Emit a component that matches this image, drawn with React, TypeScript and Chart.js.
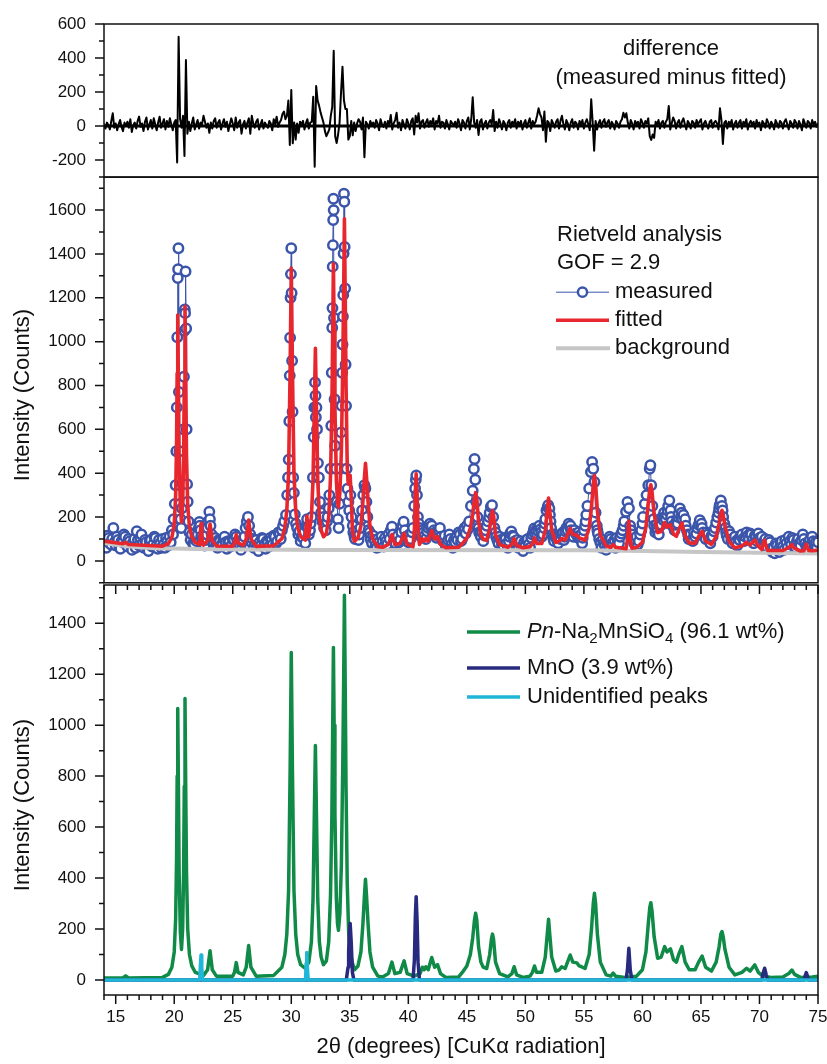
import { useEffect, useRef } from 'react';
import { Chart, registerables } from 'chart.js';

Chart.register(...registerables);

const FONT = "'Liberation Sans', Arial, Helvetica, sans-serif";

// ---------- shared axis ----------
const X_MIN = 14;
const X_MAX = 75;
const xTickLabels = [15, 20, 25, 30, 35, 40, 45, 50, 55, 60, 65, 70, 75];
const diffTickLabels = [-200, 0, 200, 400, 600];
const rietveldTickLabels = [0, 200, 400, 600, 800, 1000, 1200, 1400, 1600];
const phaseTickLabels = [0, 200, 400, 600, 800, 1000, 1200, 1400];

// ---------- top panel: difference (measured minus fitted), sampled every 0.125° from 14° ----------
const DIFF_START = 14;
const DIFF_STEP = 0.125;
const differenceValues = [
  10, -15, 20, 5, -20, 30, 75, -10,
  15, -25, 10, 35, -5, -30, 20, 0,
  25, -10, 40, -35, 5, 20, -15, 30,
  55, -5, 15, -30, 25, 50, -20, 10,
  35, -15, 45, 10, -25, 20, 55, -10,
  15, 40, -20, 30, -5, 45, 10, -25,
  20, 35, -214, 525, 40, -10, 60, -176,
  388, -45, 25, -30, 15, 50, -20, 10,
  35, -15, 20, 10, 60, 25, -10, 15,
  -40, 20, -15, 30, 45, -10, 20, 35,
  -20, 15, 40, -5, 25, -30, 10, 45,
  15, -25, 50, -10, 20, 35, -45, 10,
  30, -15, 20, 45, -45, 60, 15, -10,
  25, 40, -20, 10, 35, -15, 20, 5,
  -10, 30, 15, -25, 40, 10, 55, -5,
  20, 35, 70, 85, 40, 60, 150, -112,
  212, -102, 20, -80, 15, -40, 25, 10,
  30, -20, 15, 40, -15, 20, 25, 172,
  -239, 235, 150, 120, 80, 50, 20, -30,
  -60, -40, -20, 60, 113, 443, -60, -100,
  -50, 20, 196, 349, 150, 100, 100, -80,
  -60, 30, -55, 20, -30, 15, 40, 25,
  -20, 50, -184, 25, 10, -15, 30, 5,
  20, -10, 35, 15, -25, 40, 10, -5,
  25, -15, 30, 10, 65, -20, 15, 35,
  78, -10, 20, -25, 35, 10, -15, 40,
  15, -20, 30, 45, -50, 60, 20, 75,
  -15, 25, 35, -10, 20, 40, -5, 30,
  10, 45, -20, 30, 15, 60, -10, 25,
  20, -15, 35, 10, -20, 30, 15, 5,
  25, -10, 40, 15, -25, 35, 20, -15,
  30, 50, -20, 40, 169, 20, -10, 35,
  -53, 25, 40, -20, 15, 30, -15, 20,
  35, 10, 94, -30, 25, -10, 40, 15,
  -20, 30, 15, -25, 20, 35, -10, 25,
  10, 40, -15, 25, 5, 30, -20, 15,
  35, -10, 20, 45, -15, 30, 10, 25,
  60, 104, 70, 50, -25, 85, -92, 30,
  20, -30, 35, 15, -10, 25, 40, -15,
  30, 60, 10, -20, 35, 15, -25, 20,
  40, -10, 25, 15, -20, 30, 10, 35,
  -15, 20, 40, 10, -25, 157, 20, -145,
  30, -20, 15, 35, -10, 25, 40, -5,
  20, 35, -15, 25, 10, -20, 30, 15,
  -10, 25, 40, 78, 50, 75, 20, -15,
  35, 15, -20, 30, 10, 25, -15, 40,
  20, -10, 30, 15, 45, -60, -82, -50,
  -70, 25, 10, 35, -15, 20, 30, -10,
  25, 40, 118, -20, 15, 50, 30, -15,
  20, 35, -10, 25, 45, 10, -20, 30,
  15, -15, 30, 20, -10, 35, 10, 25,
  40, -20, 15, 30, 5, -15, 25, 35,
  -10, 20, 30, 15, -20, 104, 35, -106,
  20, 30, -15, 25, 10, 35, -20, 15,
  30, -10, 20, 35, -15, 25, 10, 40,
  -20, 15, 30, 5, 25, -15, 35, 10,
  20, -25, 30, 15, -10, 40, 20, -15,
  25, 10, -20, 35, 15, -10, 30, 20,
  -15, 25, 40, 10, -20, 30, 15, -10,
  35, 20, -15, 30, 10, -25, 40, 15,
  -10, 30, 20, -15, 35, 10, 25, -5,
  15,
];

// ---------- middle panel: Rietveld analysis ----------
const measured: [number, number][] = [
  [14.0, 95], [14.1, 70], [14.2, 60], [14.3, 115], [14.4, 105], [14.5, 80], [14.6, 75], [14.7, 100], [14.8, 150], [14.9, 85],
  [15.0, 70], [15.1, 110], [15.2, 95], [15.3, 65], [15.4, 55], [15.5, 90], [15.6, 85], [15.7, 120], [15.8, 110], [15.9, 75],
  [16.0, 65], [16.1, 100], [16.2, 90], [16.3, 70], [16.4, 50], [16.5, 85], [16.6, 100], [16.7, 60], [16.8, 135], [16.9, 95],
  [17.0, 70], [17.1, 105], [17.2, 120], [17.3, 80], [17.4, 60], [17.5, 95], [17.6, 85], [17.7, 55], [17.8, 45], [17.9, 90],
  [18.0, 95], [18.1, 65], [18.2, 75], [18.3, 110], [18.4, 105], [18.5, 70], [18.6, 55], [18.7, 95], [18.8, 80], [18.9, 60],
  [19.0, 100], [19.1, 75], [19.2, 60], [19.3, 105], [19.4, 90], [19.5, 70], [19.6, 110], [19.7, 85], [19.8, 140], [19.9, 120],
  [19.95, 190], [20.05, 260], [20.12, 345], [20.18, 500], [20.22, 700], [20.26, 1020], [20.3, 1290], [20.33, 1330], [20.36, 1426],
  [20.4, 770], [20.45, 500], [20.5, 260], [20.55, 190], [20.6, 150], [20.66, 240], [20.72, 350], [20.78, 600], [20.83, 840],
  [20.87, 1050], [20.9, 1147], [20.93, 1130], [20.97, 1320], [21.02, 1060], [21.06, 600], [21.1, 350], [21.15, 270], [21.22, 180],
  [21.3, 130], [21.4, 95], [21.5, 120], [21.6, 80], [21.7, 75], [21.8, 105], [21.9, 90], [22.0, 120], [22.1, 150], [22.15, 178],
  [22.2, 160], [22.25, 140], [22.3, 110], [22.4, 100], [22.5, 85], [22.6, 70], [22.7, 95], [22.8, 120], [22.85, 150], [22.9, 180],
  [23.0, 224], [23.05, 190], [23.1, 160], [23.2, 120], [23.3, 95], [23.4, 80], [23.5, 105], [23.6, 75], [23.7, 60], [23.8, 95],
  [23.9, 90], [24.0, 70], [24.1, 75], [24.2, 100], [24.3, 110], [24.4, 85], [24.5, 55], [24.6, 90], [24.7, 85], [24.8, 65],
  [24.9, 70], [25.0, 100], [25.1, 95], [25.2, 120], [25.3, 110], [25.4, 90], [25.5, 80], [25.6, 65], [25.7, 50], [25.8, 85],
  [25.9, 90], [26.0, 110], [26.1, 150], [26.2, 180], [26.3, 200], [26.4, 160], [26.5, 120], [26.6, 85], [26.7, 100], [26.8, 60],
  [26.9, 80], [27.0, 95], [27.1, 70], [27.2, 45], [27.3, 85], [27.4, 70], [27.5, 105], [27.6, 100], [27.7, 75], [27.8, 55],
  [27.9, 90], [28.0, 85], [28.1, 65], [28.2, 105], [28.3, 95], [28.4, 75], [28.5, 115], [28.6, 110], [28.7, 80], [28.8, 90],
  [28.9, 130], [29.0, 120], [29.1, 100], [29.2, 140], [29.3, 160], [29.4, 180], [29.55, 210], [29.65, 300], [29.72, 380],
  [29.78, 462], [29.83, 637], [29.87, 845], [29.9, 1018], [29.94, 1200], [29.97, 1308], [30.0, 1426], [30.03, 1222], [30.07, 913],
  [30.11, 680], [30.16, 380], [30.22, 310], [30.3, 212], [30.4, 170], [30.5, 150], [30.6, 120], [30.7, 135], [30.8, 90], [30.9, 110],
  [31.0, 105], [31.1, 130], [31.2, 80], [31.3, 160], [31.35, 190], [31.4, 150], [31.5, 120], [31.6, 140], [31.65, 170], [31.75, 200],
  [31.85, 380], [31.92, 565], [31.97, 700], [32.03, 814], [32.07, 753], [32.1, 655], [32.15, 700], [32.2, 600], [32.28, 446],
  [32.36, 380], [32.45, 269], [32.55, 220], [32.65, 180], [32.75, 200], [32.8, 150], [32.9, 170], [32.95, 140], [33.05, 180],
  [33.1, 200], [33.2, 240], [33.25, 300], [33.35, 420], [33.42, 616], [33.46, 858], [33.5, 1063], [33.52, 1153], [33.54, 1342],
  [33.56, 1440], [33.58, 1555], [33.6, 1652], [33.62, 1600], [33.65, 1108], [33.7, 737], [33.75, 525], [33.82, 420], [33.9, 270],
  [33.98, 190], [34.05, 150], [34.12, 260], [34.2, 420], [34.26, 586], [34.3, 707], [34.35, 858], [34.38, 987], [34.41, 1115],
  [34.44, 1213], [34.47, 1402], [34.5, 1675], [34.53, 1638], [34.56, 1432], [34.6, 1243], [34.64, 896], [34.68, 707], [34.73, 420],
  [34.8, 329], [34.88, 269], [34.95, 230], [35.05, 300], [35.15, 200], [35.25, 160], [35.3, 130], [35.4, 110], [35.45, 100],
  [35.5, 125], [35.6, 120], [35.7, 140], [35.75, 95], [35.8, 120], [35.9, 150], [36.0, 190], [36.05, 230], [36.15, 300], [36.25, 345],
  [36.33, 330], [36.42, 269], [36.5, 200], [36.6, 140], [36.7, 130], [36.75, 110], [36.8, 95], [36.9, 80], [37.0, 115], [37.1, 95],
  [37.2, 70], [37.3, 60], [37.4, 100], [37.5, 85], [37.6, 65], [37.7, 110], [37.8, 90], [37.9, 65], [38.0, 105], [38.1, 90],
  [38.2, 75], [38.3, 120], [38.4, 100], [38.5, 140], [38.6, 156], [38.7, 120], [38.8, 90], [38.9, 80], [39.0, 105], [39.1, 115],
  [39.2, 85], [39.3, 95], [39.4, 130], [39.5, 160], [39.6, 179], [39.7, 140], [39.8, 110], [39.9, 95], [40.0, 85], [40.1, 120],
  [40.2, 100], [40.3, 130], [40.4, 150], [40.5, 250], [40.58, 330], [40.64, 370], [40.68, 390], [40.74, 300], [40.82, 200],
  [40.9, 170], [40.95, 150], [41.0, 125], [41.1, 110], [41.2, 140], [41.3, 130], [41.4, 115], [41.5, 100], [41.6, 135], [41.7, 150],
  [41.8, 165], [41.85, 170], [41.9, 155], [42.0, 160], [42.1, 125], [42.2, 140], [42.3, 130], [42.4, 105], [42.5, 118], [42.6, 140],
  [42.7, 150], [42.8, 110], [42.9, 95], [43.0, 90], [43.1, 115], [43.2, 70], [43.3, 85], [43.4, 95], [43.5, 120], [43.6, 100],
  [43.7, 75], [43.8, 60], [43.9, 95], [44.0, 85], [44.1, 110], [44.2, 95], [44.3, 130], [44.4, 120], [44.5, 90], [44.6, 100],
  [44.7, 135], [44.8, 150], [44.9, 125], [45.0, 160], [45.1, 145], [45.2, 180], [45.35, 250], [45.5, 320], [45.6, 419], [45.66, 465],
  [45.72, 370], [45.8, 270], [45.9, 200], [46.0, 150], [46.05, 130], [46.1, 125], [46.2, 110], [46.3, 130], [46.4, 90], [46.5, 115],
  [46.6, 140], [46.7, 160], [46.8, 180], [46.9, 200], [46.95, 220], [47.05, 247], [47.15, 254], [47.25, 200], [47.35, 150],
  [47.45, 130], [47.5, 110], [47.6, 95], [47.7, 80], [47.8, 110], [47.9, 95], [48.0, 75], [48.1, 70], [48.2, 105], [48.3, 100],
  [48.4, 80], [48.5, 60], [48.6, 90], [48.65, 110], [48.7, 125], [48.8, 134], [48.9, 115], [49.0, 110], [49.1, 90], [49.2, 75],
  [49.3, 95], [49.4, 60], [49.5, 80], [49.6, 90], [49.7, 65], [49.8, 45], [49.9, 85], [50.0, 70], [50.1, 95], [50.2, 100],
  [50.3, 75], [50.4, 60], [50.5, 105], [50.6, 120], [50.7, 135], [50.75, 148], [50.8, 125], [50.9, 140], [51.0, 115], [51.05, 150],
  [51.1, 135], [51.2, 160], [51.3, 145], [51.35, 130], [51.4, 110], [51.5, 120], [51.6, 150], [51.65, 170], [51.7, 190], [51.8, 230],
  [51.9, 245], [51.95, 254], [52.05, 239], [52.1, 210], [52.15, 180], [52.2, 150], [52.3, 120], [52.4, 100], [52.45, 90], [52.5, 120],
  [52.6, 110], [52.7, 95], [52.8, 80], [52.9, 115], [53.0, 100], [53.1, 120], [53.2, 130], [53.3, 95], [53.35, 110], [53.4, 135],
  [53.5, 150], [53.6, 140], [53.7, 170], [53.8, 155], [53.85, 160], [53.9, 140], [54.0, 130], [54.1, 110], [54.2, 140], [54.3, 125],
  [54.4, 120], [54.5, 105], [54.55, 130], [54.6, 115], [54.7, 100], [54.8, 120], [54.85, 80], [54.9, 105], [55.0, 140], [55.1, 160],
  [55.15, 180], [55.2, 210], [55.3, 250], [55.45, 330], [55.6, 405], [55.7, 451], [55.8, 420], [55.9, 360], [56.0, 220], [56.1, 160],
  [56.15, 140], [56.2, 125], [56.3, 100], [56.4, 85], [56.5, 60], [56.6, 95], [56.7, 80], [56.8, 70], [56.9, 50], [57.0, 85],
  [57.1, 70], [57.2, 110], [57.3, 100], [57.4, 80], [57.5, 75], [57.6, 95], [57.7, 60], [57.8, 105], [57.9, 90], [58.0, 80],
  [58.1, 110], [58.2, 125], [58.3, 140], [58.4, 160], [58.45, 180], [58.6, 224], [58.72, 269], [58.85, 240], [58.95, 160],
  [59.0, 140], [59.1, 120], [59.2, 100], [59.3, 80], [59.4, 95], [59.5, 110], [59.6, 75], [59.7, 90], [59.8, 120], [59.9, 140],
  [60.0, 170], [60.05, 200], [60.2, 260], [60.35, 300], [60.5, 345], [60.62, 420], [60.68, 436], [60.75, 345], [60.85, 250],
  [60.95, 190], [61.0, 160], [61.1, 130], [61.2, 165], [61.25, 150], [61.3, 135], [61.4, 120], [61.5, 160], [61.55, 180], [61.6, 165],
  [61.7, 200], [61.8, 185], [61.85, 220], [61.9, 200], [62.0, 190], [62.1, 210], [62.15, 230], [62.2, 250], [62.3, 276], [62.4, 230],
  [62.45, 200], [62.5, 180], [62.6, 160], [62.7, 150], [62.75, 140], [62.8, 165], [62.9, 180], [63.0, 170], [63.05, 200], [63.1, 215],
  [63.2, 239], [63.3, 200], [63.35, 220], [63.4, 190], [63.5, 209], [63.6, 170], [63.65, 190], [63.7, 160], [63.8, 140], [63.9, 120],
  [63.95, 100], [64.0, 115], [64.1, 120], [64.2, 95], [64.3, 90], [64.4, 130], [64.5, 110], [64.6, 125], [64.7, 150], [64.8, 165],
  [64.9, 186], [65.0, 160], [65.05, 170], [65.1, 150], [65.2, 130], [65.3, 115], [65.4, 100], [65.5, 130], [65.6, 120], [65.7, 95],
  [65.8, 80], [65.9, 115], [66.0, 110], [66.1, 135], [66.2, 150], [66.3, 175], [66.4, 200], [66.5, 220], [66.55, 240], [66.6, 255],
  [66.7, 276], [66.8, 250], [66.85, 230], [66.9, 200], [67.0, 170], [67.1, 150], [67.15, 130], [67.2, 115], [67.3, 100], [67.4, 135],
  [67.5, 120], [67.6, 95], [67.7, 80], [67.8, 105], [67.9, 110], [68.0, 90], [68.1, 70], [68.2, 100], [68.3, 95], [68.4, 115],
  [68.5, 120], [68.6, 100], [68.7, 90], [68.8, 110], [68.9, 130], [69.0, 115], [69.1, 100], [69.2, 125], [69.3, 120], [69.4, 95],
  [69.5, 80], [69.6, 115], [69.7, 110], [69.8, 90], [69.9, 125], [70.0, 105], [70.1, 95], [70.2, 110], [70.3, 75], [70.4, 90],
  [70.5, 100], [70.6, 80], [70.7, 60], [70.8, 95], [70.9, 85], [71.0, 55], [71.1, 40], [71.2, 60], [71.3, 35], [71.4, 80],
  [71.5, 70], [71.6, 50], [71.7, 40], [71.8, 75], [71.9, 90], [72.0, 65], [72.1, 50], [72.2, 95], [72.3, 80], [72.4, 60],
  [72.5, 110], [72.6, 90], [72.7, 75], [72.8, 105], [72.9, 95], [73.0, 70], [73.1, 60], [73.2, 90], [73.3, 100], [73.4, 80],
  [73.5, 70], [73.6, 95], [73.7, 120], [73.8, 100], [73.9, 80], [74.0, 65], [74.1, 55], [74.2, 85], [74.3, 95], [74.4, 75],
  [74.5, 110], [74.6, 90], [74.7, 70], [74.8, 85], [74.9, 60], [75.0, 85],
];

const fitted: [number, number][] = [
  [14.0, 90], [15.6, 78], [15.85, 84], [16.1, 75], [19.0, 67], [19.5, 79], [19.8, 107], [20.0, 166], [20.12, 296], [20.2, 536],
  [20.25, 856], [20.3, 1121], [20.35, 856], [20.42, 476], [20.52, 246], [20.62, 176], [20.72, 256], [20.8, 476], [20.86, 816],
  [20.92, 1161], [20.98, 816], [21.05, 475], [21.15, 255], [21.3, 155], [21.5, 110], [21.8, 84],
  [22.18, 74], [22.24, 134], [22.29, 170], [22.35, 122], [22.42, 76], [22.5, 72], [22.85, 93], [23.06, 168], [23.25, 93], [23.6, 68],
  [25.0, 67], [25.15, 82], [25.3, 120], [25.45, 82], [25.9, 71], [26.15, 101], [26.36, 186], [26.55, 101], [27.0, 66], [28.5, 69],
  [29.2, 101], [29.45, 151], [29.62, 231], [29.77, 401], [29.9, 871], [30.0, 1336], [30.1, 871], [30.23, 401], [30.38, 231],
  [30.55, 151], [30.8, 111], [31.2, 95], [31.27, 163], [31.32, 205], [31.37, 158], [31.44, 110], [31.5, 120], [31.72, 200],
  [31.86, 370], [31.97, 700], [32.06, 970], [32.15, 700], [32.26, 370], [32.4, 200], [32.55, 140], [32.75, 110], [33.0, 125],
  [33.2, 200], [33.35, 380], [33.47, 700], [33.54, 1050], [33.6, 1355], [33.66, 1050], [33.73, 700], [33.85, 370], [33.95, 270],
  [34.03, 245], [34.15, 310], [34.28, 500], [34.4, 900], [34.48, 1250], [34.54, 1560], [34.6, 1250], [34.68, 800], [34.78, 430],
  [34.85, 370], [34.9, 350], [34.95, 390], [35.03, 390], [35.12, 290], [35.22, 147], [35.35, 98], [35.4, 90], [35.7, 105],
  [35.95, 160], [36.12, 270], [36.25, 380], [36.34, 445], [36.43, 380], [36.56, 270], [36.72, 160], [36.95, 100], [37.4, 65],
  [37.8, 62], [38.3, 75], [38.6, 120], [38.85, 75], [39.3, 80], [39.64, 125], [39.9, 75],
  [40.4, 65], [40.52, 145], [40.6, 320], [40.67, 397], [40.75, 300], [40.83, 145], [40.95, 75], [41.2, 100], [41.35, 90], [41.5, 102],
  [41.7, 90], [42.0, 138], [42.25, 100], [42.5, 110], [42.75, 75], [43.2, 60], [44.3, 62], [44.7, 84], [45.0, 104], [45.3, 149],
  [45.5, 214], [45.65, 284], [45.75, 311], [45.85, 284], [46.0, 179], [46.2, 119], [46.4, 99], [46.7, 94], [46.95, 149], [47.1, 209],
  [47.19, 229], [47.28, 209], [47.45, 119], [47.8, 74], [48.5, 62], [48.85, 75], [49.04, 102], [49.25, 70], [49.8, 60], [50.4, 65],
  [50.6, 80], [50.78, 105], [50.95, 80], [51.4, 79], [51.7, 139], [51.85, 219], [51.98, 287], [52.1, 219], [52.25, 139], [52.6, 84],
  [52.9, 90], [53.1, 102], [53.4, 95], [53.6, 120], [53.83, 148], [54.05, 120], [54.4, 117], [54.6, 105], [54.8, 101], [55.1, 94],
  [55.45, 149], [55.65, 249], [55.8, 349], [55.9, 389], [56.0, 349], [56.15, 229], [56.4, 118], [56.9, 68], [57.3, 62],
  [57.5, 74], [57.7, 62], [58.6, 56], [58.72, 96], [58.84, 182], [58.96, 98], [59.1, 58], [59.5, 61], [60.0, 85], [60.3, 154],
  [60.5, 264], [60.63, 329], [60.72, 347], [60.82, 314], [61.0, 214], [61.3, 129], [61.6, 134], [61.9, 175], [62.1, 153],
  [62.4, 165], [62.65, 122], [62.9, 112], [63.1, 142], [63.37, 173], [63.65, 112], [64.0, 82], [64.5, 81], [64.8, 111], [65.1, 135],
  [65.4, 91], [65.9, 75], [66.3, 110], [66.55, 170], [66.7, 220], [66.8, 230], [66.9, 210], [67.05, 160], [67.4, 89], [67.9, 59],
  [68.5, 68], [68.9, 84], [69.2, 72], [69.6, 96], [69.9, 67],
  [70.2, 52], [70.3, 77], [70.44, 95], [70.58, 67], [70.7, 47], [71.0, 47], [72.0, 48], [72.5, 60], [72.77, 74], [73.0, 57],
  [73.5, 45], [73.8, 46], [73.92, 65], [74.0, 76], [74.1, 62], [74.2, 47], [74.5, 46], [75.0, 49],
];

const background: [number, number][] = [
  [14, 82], [15, 74], [16, 67], [17, 62], [18, 59], [19, 57], [20, 56], [22, 54], [25, 52], [30, 50.5],
  [33, 50], [55, 49], [60, 45], [65, 41], [70, 37], [75, 34],
];

// ---------- bottom panel: phase contributions ----------
const naMnSiO4: [number, number][] = [
  [14.0, 8], [15.6, 8], [15.85, 16], [16.1, 8], [19.0, 10], [19.5, 22], [19.8, 50], [20.0, 110], [20.12, 240], [20.2, 480],
  [20.25, 800], [20.3, 1065], [20.35, 800], [20.42, 420], [20.52, 190], [20.62, 120], [20.72, 200], [20.8, 420], [20.86, 760],
  [20.92, 1105], [20.98, 760], [21.05, 420], [21.15, 200], [21.3, 100], [21.5, 55], [21.8, 30],
  [22.5, 18], [22.85, 40], [23.06, 115], [23.25, 40], [23.6, 15], [25.0, 15], [25.15, 30], [25.3, 68], [25.45, 30], [25.9, 20],
  [26.15, 50], [26.36, 135], [26.55, 50], [27.0, 15], [28.5, 18], [29.2, 50], [29.45, 100], [29.62, 180], [29.77, 350], [29.9, 820],
  [30.0, 1285], [30.1, 820], [30.23, 350], [30.38, 180], [30.55, 100], [30.8, 60], [31.2, 45], [31.5, 70], [31.72, 150], [31.86, 320],
  [31.97, 650], [32.06, 920], [32.15, 650], [32.26, 320], [32.4, 150], [32.55, 90], [32.75, 60], [33.0, 75], [33.2, 150], [33.35, 330],
  [33.47, 650], [33.54, 1000], [33.6, 1305], [33.66, 1000], [33.73, 650], [33.85, 320], [33.95, 220], [34.03, 195], [34.15, 260],
  [34.28, 450], [34.4, 850], [34.48, 1200], [34.54, 1510], [34.6, 1200], [34.68, 750], [34.78, 380], [34.9, 190], [35.05, 110],
  [35.2, 70], [35.4, 40], [35.7, 55], [35.95, 110], [36.12, 220], [36.25, 330], [36.34, 395], [36.43, 330], [36.56, 220],
  [36.72, 110], [36.95, 50], [37.4, 15], [37.8, 12], [38.3, 25], [38.6, 70], [38.85, 25], [39.3, 30], [39.64, 75], [39.9, 25],
  [40.5, 15], [41.0, 25], [41.2, 50], [41.35, 40], [41.5, 52], [41.7, 40], [42.0, 88], [42.25, 50], [42.5, 60], [42.75, 25],
  [43.2, 10], [44.3, 12], [44.7, 35], [45.0, 55], [45.3, 100], [45.5, 165], [45.65, 235], [45.75, 262], [45.85, 235], [46.0, 130],
  [46.2, 70], [46.4, 50], [46.7, 45], [46.95, 100], [47.1, 160], [47.19, 180], [47.28, 160], [47.45, 70], [47.8, 25], [48.5, 12],
  [48.85, 25], [49.04, 52], [49.25, 20], [49.8, 10], [50.4, 15], [50.6, 30], [50.78, 55], [50.95, 30], [51.4, 30], [51.7, 90],
  [51.85, 170], [51.98, 238], [52.1, 170], [52.25, 90], [52.6, 35], [52.9, 40], [53.1, 52], [53.4, 45], [53.6, 70], [53.83, 98],
  [54.05, 70], [54.4, 67], [54.6, 55], [54.8, 52], [55.1, 45], [55.45, 100], [55.65, 200], [55.8, 300], [55.9, 340], [56.0, 300],
  [56.15, 180], [56.4, 70], [56.9, 20], [57.3, 15], [57.5, 27], [57.7, 15], [58.5, 10], [59.5, 15], [60.0, 40], [60.3, 110],
  [60.5, 220], [60.63, 285], [60.72, 303], [60.82, 270], [61.0, 170], [61.3, 85], [61.6, 90], [61.9, 131], [62.1, 110], [62.4, 122],
  [62.65, 80], [62.9, 70], [63.1, 100], [63.37, 131], [63.65, 70], [64.0, 40], [64.5, 40], [64.8, 70], [65.1, 94], [65.4, 50],
  [65.9, 35], [66.3, 70], [66.55, 130], [66.7, 180], [66.8, 190], [66.9, 170], [67.05, 120], [67.4, 50], [67.9, 20], [68.5, 30],
  [68.9, 46], [69.2, 35], [69.6, 59], [69.9, 30], [70.3, 15], [71.0, 10], [72.0, 12], [72.5, 25], [72.77, 39], [73.0, 22],
  [73.5, 10], [74.5, 12], [75.0, 15],
];

const mnO: [number, number][] = [
  [14, 0], [34.7, 0], [34.85, 50], [34.9, 110], [34.95, 180], [35.03, 222], [35.12, 150], [35.22, 30], [35.35, 0],
  [40.4, 0], [40.52, 80], [40.6, 250], [40.67, 327], [40.75, 230], [40.83, 70], [40.95, 0],
  [58.6, 0], [58.72, 40], [58.84, 124], [58.96, 40], [59.1, 0],
  [70.2, 0], [70.3, 25], [70.44, 46], [70.58, 20], [70.7, 0],
  [73.8, 0], [73.92, 18], [74.0, 29], [74.1, 15], [74.2, 0], [75, 0],
];

const unidentified: [number, number][] = [
  [14, 0], [22.18, 0], [22.24, 60], [22.29, 98], [22.35, 50], [22.42, 0],
  [31.22, 0], [31.27, 65], [31.32, 108], [31.37, 55], [31.44, 0], [75, 0],
];

// ---------- colours ----------
const C_BLUE = '#3b55aa';
const C_RED = '#e8262d';
const C_GRAY = '#c6c6c6';
const C_GREEN = '#108a47';
const C_NAVY = '#272a7f';
const C_CYAN = '#1fb6d8';
const C_INK = '#111111';

const pts = (arr: [number, number][]) => arr.map(([x, y]) => ({ x, y }));
const diffPoints = () => differenceValues.map((y, i) => ({ x: DIFF_START + i * DIFF_STEP, y }));

function line(color: string, width: number, data: any[]) {
  return {
    data,
    borderColor: color,
    backgroundColor: color,
    borderWidth: width,
    pointRadius: 0,
    tension: 0,
    fill: false,
    borderJoinStyle: 'round',
    borderCapStyle: 'round',
  };
}

function baseOptions(yMin: number, yMax: number, yLabels: number[], padTop: number, padBottom: number, showX: boolean) {
  return {
    responsive: false,
    maintainAspectRatio: false,
    animation: false,
    devicePixelRatio: 1,
    events: [],
    layout: { padding: { left: 0, right: 9, top: padTop, bottom: padBottom } },
    plugins: { legend: { display: false }, tooltip: { enabled: false }, title: { display: false } },
    scales: {
      x: {
        type: 'linear',
        min: X_MIN,
        max: X_MAX,
        display: showX,
        afterBuildTicks: (s: any) => {
          s.ticks = xTickLabels.map((v) => ({ value: v }));
        },
        afterFit: (s: any) => {
          s.paddingLeft = 0;
          s.paddingRight = 0;
          if (showX) s.height = 69;
        },
        grid: { display: false },
        border: { display: false },
        ticks: {
          autoSkip: false,
          maxRotation: 0,
          minRotation: 0,
          padding: 4,
          color: C_INK,
          font: { family: FONT, size: 17 },
          callback: (v: number) => String(v),
        },
      },
      y: {
        type: 'linear',
        min: yMin,
        max: yMax,
        afterBuildTicks: (s: any) => {
          s.ticks = yLabels.map((v) => ({ value: v }));
        },
        afterFit: (s: any) => {
          s.width = 104;
          s.paddingTop = 0;
          s.paddingBottom = 0;
        },
        grid: { display: false },
        border: { display: false },
        ticks: {
          autoSkip: false,
          padding: 10,
          color: C_INK,
          font: { family: FONT, size: 17 },
          callback: (v: number) => String(v),
        },
      },
    },
  };
}

function drawFrameAndYTicks(chart: any) {
  const { ctx, chartArea: a } = chart;
  const ys = chart.scales.y;
  ctx.save();
  ctx.strokeStyle = C_INK;
  ctx.lineWidth = 1.5;
  ctx.strokeRect(a.left, a.top, a.right - a.left, a.bottom - a.top);
  ctx.beginPath();
  for (let v = Math.ceil(ys.min / 100) * 100; v <= ys.max + 1e-6; v += 100) {
    const py = ys.getPixelForValue(v);
    const len = v % 200 === 0 ? 9 : 5;
    ctx.moveTo(a.left - len, py);
    ctx.lineTo(a.left, py);
  }
  ctx.stroke();
  ctx.restore();
}

function drawYTitle(chart: any, text: string) {
  const { ctx, chartArea: a } = chart;
  ctx.save();
  ctx.fillStyle = C_INK;
  ctx.font = `22px ${FONT}`;
  ctx.textAlign = 'center';
  ctx.textBaseline = 'middle';
  ctx.translate(23, (a.top + a.bottom) / 2 + 15);
  ctx.rotate(-Math.PI / 2);
  ctx.fillText(text, 0, 0);
  ctx.restore();
}

function legendLine(ctx: any, x0: number, x1: number, y: number, color: string, width: number) {
  ctx.save();
  ctx.strokeStyle = color;
  ctx.lineWidth = width;
  ctx.lineCap = 'butt';
  ctx.beginPath();
  ctx.moveTo(x0, y);
  ctx.lineTo(x1, y);
  ctx.stroke();
  ctx.restore();
}

function text(ctx: any, s: string, x: number, y: number, align = 'left', font = `22px ${FONT}`) {
  ctx.save();
  ctx.fillStyle = C_INK;
  ctx.font = font;
  ctx.textAlign = align;
  ctx.textBaseline = 'middle';
  ctx.fillText(s, x, y);
  ctx.restore();
}

const topPlugin = {
  id: 'topDecor',
  afterDraw(chart: any) {
    drawFrameAndYTicks(chart);
    const { ctx, chartArea: a } = chart;
    text(ctx, 'difference', a.left + 567, a.top + 25, 'center');
    text(ctx, '(measured minus fitted)', a.left + 567, a.top + 54, 'center');
  },
};

const middlePlugin = {
  id: 'midDecor',
  afterDraw(chart: any) {
    drawFrameAndYTicks(chart);
    drawYTitle(chart, 'Intensity (Counts)');
    const { ctx, chartArea: a } = chart;
    const lx0 = a.left + 452;
    const lx1 = a.left + 505;
    const tx = a.left + 511;
    text(ctx, 'Rietveld analysis', a.left + 453, a.top + 58);
    text(ctx, 'GOF = 2.9', a.left + 453, a.top + 86);
    const ym = a.top + 115;
    legendLine(ctx, lx0, lx1, ym, C_BLUE, 1);
    ctx.save();
    ctx.beginPath();
    ctx.arc((lx0 + lx1) / 2, ym, 4.6, 0, Math.PI * 2);
    ctx.fillStyle = '#ffffff';
    ctx.fill();
    ctx.lineWidth = 2.5;
    ctx.strokeStyle = C_BLUE;
    ctx.stroke();
    ctx.restore();
    text(ctx, 'measured', tx, ym);
    legendLine(ctx, lx0, lx1, a.top + 143, C_RED, 3.5);
    text(ctx, 'fitted', tx, a.top + 143);
    legendLine(ctx, lx0, lx1 + 1, a.top + 171, C_GRAY, 4);
    text(ctx, 'background', tx, a.top + 171);
  },
};

const bottomPlugin = {
  id: 'botDecor',
  afterDraw(chart: any) {
    drawFrameAndYTicks(chart);
    drawYTitle(chart, 'Intensity (Counts)');
    const { ctx, chartArea: a } = chart;
    const xs = chart.scales.x;
    ctx.save();
    ctx.strokeStyle = C_INK;
    ctx.lineWidth = 1.5;
    ctx.beginPath();
    for (let v = X_MIN; v <= X_MAX; v += 1) {
      const px = xs.getPixelForValue(v);
      const len = v % 5 === 0 ? 9 : 5;
      ctx.moveTo(px, a.bottom);
      ctx.lineTo(px, a.bottom + len);
      ctx.moveTo(px, a.top);
      ctx.lineTo(px, a.top + len);
    }
    ctx.stroke();
    ctx.restore();

    text(ctx, '2θ (degrees) [CuKα radiation]', (a.left + a.right) / 2, a.bottom + 52, 'center');

    const lx0 = a.left + 363;
    const lx1 = a.left + 416;
    const tx = a.left + 423;
    const y1 = a.top + 47;
    const y2 = a.top + 83;
    const y3 = a.top + 112;
    legendLine(ctx, lx0, lx1, y1, C_GREEN, 3.5);
    legendLine(ctx, lx0, lx1, y2, C_NAVY, 3.5);
    legendLine(ctx, lx0, lx1, y3, C_CYAN, 3.5);

    const main = `22px ${FONT}`;
    const ital = `italic 22px ${FONT}`;
    const sub = `15px ${FONT}`;
    const parts: [string, string, number][] = [
      ['Pn', ital, 0],
      ['-Na', main, 0],
      ['2', sub, 7],
      ['MnSiO', main, 0],
      ['4', sub, 7],
      [' (96.1 wt%)', main, 0],
    ];
    let x = tx;
    ctx.save();
    ctx.fillStyle = C_INK;
    ctx.textBaseline = 'middle';
    ctx.textAlign = 'left';
    for (const [s, f, dy] of parts) {
      ctx.font = f;
      ctx.fillText(s, x, y1 + dy);
      x += ctx.measureText(s).width;
    }
    ctx.restore();
    text(ctx, 'MnO (3.9 wt%)', tx, y2);
    text(ctx, 'Unidentified peaks', tx, y3);
  },
};

export default function App() {
  const topRef = useRef<HTMLCanvasElement>(null);
  const midRef = useRef<HTMLCanvasElement>(null);
  const botRef = useRef<HTMLCanvasElement>(null);

  useEffect(() => {
    const zeroLine = [
      { x: X_MIN, y: 0 },
      { x: X_MAX, y: 0 },
    ];
    const top = new Chart(topRef.current as HTMLCanvasElement, {
      type: 'line',
      data: {
        datasets: [line('#000000', 2, diffPoints()), line('#000000', 3, zeroLine)] as any,
      },
      options: baseOptions(-300, 600, diffTickLabels, 24, 3, false) as any,
      plugins: [topPlugin],
    });

    const measuredSet = {
      data: pts(measured),
      borderColor: C_BLUE,
      borderWidth: 1,
      tension: 0,
      fill: false,
      pointRadius: 4.7,
      pointBorderWidth: 2.5,
      pointBorderColor: C_BLUE,
      pointBackgroundColor: '#ffffff',
      pointStyle: 'circle',
    };
    const mid = new Chart(midRef.current as HTMLCanvasElement, {
      type: 'line',
      data: {
        datasets: [
          line(C_RED, 3.6, pts(fitted)),
          line(C_GRAY, 4, pts(background)),
          measuredSet,
        ] as any,
      },
      options: baseOptions(-100, 1750, rietveldTickLabels, 7, 5, false) as any,
      plugins: [middlePlugin],
    });

    const bot = new Chart(botRef.current as HTMLCanvasElement, {
      type: 'line',
      data: {
        datasets: [
          line(C_CYAN, 3.5, pts(unidentified)),
          line(C_NAVY, 3.5, pts(mnO)),
          line(C_GREEN, 3.5, pts(naMnSiO4)),
        ] as any,
      },
      options: baseOptions(-59, 1550, phaseTickLabels, 10, 0, true) as any,
      plugins: [bottomPlugin],
    });

    return () => {
      top.destroy();
      mid.destroy();
      bot.destroy();
    };
  }, []);

  return (
    <div
      style={{
        position: 'absolute',
        left: 0,
        top: 0,
        width: 827,
        height: 1064,
        background: '#ffffff',
        overflow: 'hidden',
      }}
    >
      <canvas ref={topRef} width={827} height={180} style={{ position: 'absolute', left: 0, top: 0, width: 827, height: 180 }} />
      <canvas ref={midRef} width={827} height={420} style={{ position: 'absolute', left: 0, top: 170, width: 827, height: 420 }} />
      <canvas ref={botRef} width={827} height={489} style={{ position: 'absolute', left: 0, top: 575, width: 827, height: 489 }} />
    </div>
  );
}
